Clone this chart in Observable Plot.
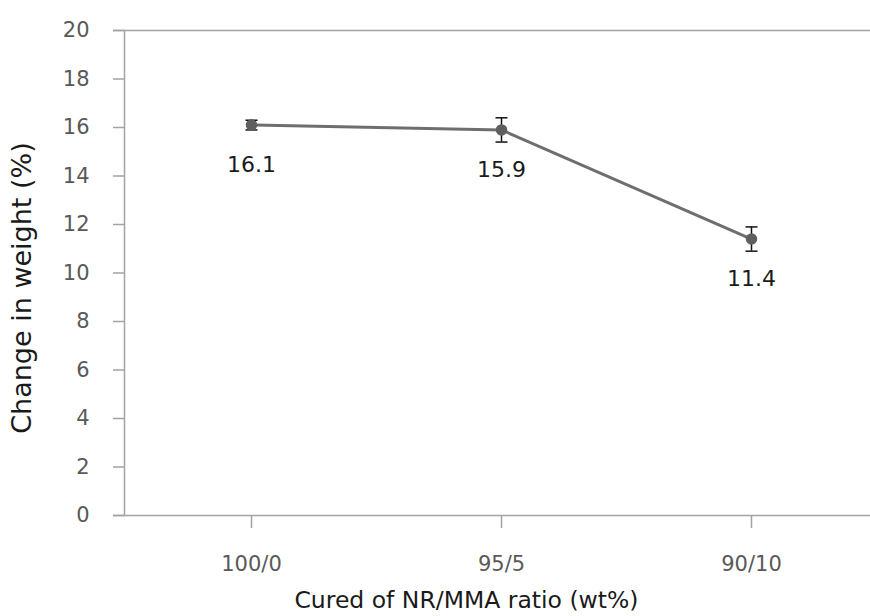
<!DOCTYPE html>
<html>
<head>
<meta charset="utf-8">
<script src="https://cdn.jsdelivr.net/npm/d3@7"></script>
<script src="https://cdn.jsdelivr.net/npm/@observablehq/plot@0.6"></script>
<style>
  html, body { margin: 0; padding: 0; background: #fff; }
  svg { display: block; }
</style>
</head>
<body>
<div id="chart"></div>
<script>
// NR/MMA blend ratios and the measured change in weight (%) with its spread
const ratios = ["100/0", "95/5", "90/10"];
const weightChange = [16.1, 15.9, 11.4];
const errorHalf = [0.2, 0.5, 0.5];
const yTicks = [0, 2, 4, 6, 8, 10, 12, 14, 16, 18, 20];

const rows = ratios.map((r, i) => ({
  ratio: r,
  value: weightChange[i],
  lo: weightChange[i] - errorHalf[i],
  hi: weightChange[i] + errorHalf[i]
}));

// short horizontal stroke used as the error-bar cap
const capSymbol = {
  draw(context, size) {
    const w = Math.sqrt(size / Math.PI);
    context.moveTo(-w, 0);
    context.lineTo(w, 0);
  }
};

const font = "DejaVu Sans, sans-serif";
const axisColor = "#a3a3a3";
const labelColor = "#595959";

const chart = Plot.plot({
  width: 870,
  height: 616,
  marginLeft: 124,
  marginRight: 0,
  marginTop: 30,
  marginBottom: 101,
  style: { fontFamily: font, fontSize: "21px", background: "#fff", overflow: "visible" },
  x: { type: "point", domain: ratios, padding: 0.5, range: [126, 876] },
  y: { domain: [0, 20] },
  marks: [
    Plot.ruleY([0, 20], { stroke: axisColor, strokeWidth: 1.5, insetLeft: -11 }),
    Plot.frame({ anchor: "left", stroke: axisColor, strokeWidth: 1.5 }),
    Plot.axisY({
      ticks: yTicks, tickSize: 11, tickPadding: 24, stroke: axisColor,
      strokeWidth: 1.5, strokeOpacity: 1, color: labelColor, fontSize: 21, label: null
    }),
    Plot.axisX({
      tickSize: 13, tickPadding: 28, stroke: axisColor, strokeWidth: 1.5,
      strokeOpacity: 1, color: labelColor, fontSize: 21, label: null
    }),
    Plot.line(rows, { x: "ratio", y: "value", stroke: "#6e6e6e", strokeWidth: 3 }),
    Plot.ruleX(rows, { x: "ratio", y1: "lo", y2: "hi", stroke: "#111", strokeWidth: 1.5 }),
    Plot.dot(rows, { x: "ratio", y: "lo", symbol: capSymbol, r: 6, stroke: "#111", strokeWidth: 1.5 }),
    Plot.dot(rows, { x: "ratio", y: "hi", symbol: capSymbol, r: 6, stroke: "#111", strokeWidth: 1.5 }),
    Plot.dot(rows, { x: "ratio", y: "value", r: 5, fill: "#5f5f5f", stroke: "#5f5f5f" }),
    Plot.text(rows, {
      x: "ratio", y: "value", text: d => d.value.toFixed(1), dy: 40,
      fontSize: 22, fill: "#1a1a1a"
    }),
    Plot.text(["Change in weight (%)"], {
      frameAnchor: "left", textAnchor: "middle", lineAnchor: "middle", rotate: -90,
      dx: -102, dy: 15, fontSize: 27, fill: "#1a1a1a"
    }),
    Plot.text(["Cured of NR/MMA ratio (wt%)"], {
      frameAnchor: "bottom", lineAnchor: "middle", dx: -31, dy: 85, fontSize: 23.5, fill: "#1a1a1a"
    })
  ]
});

document.getElementById("chart").appendChild(chart);
</script>
</body>
</html>
